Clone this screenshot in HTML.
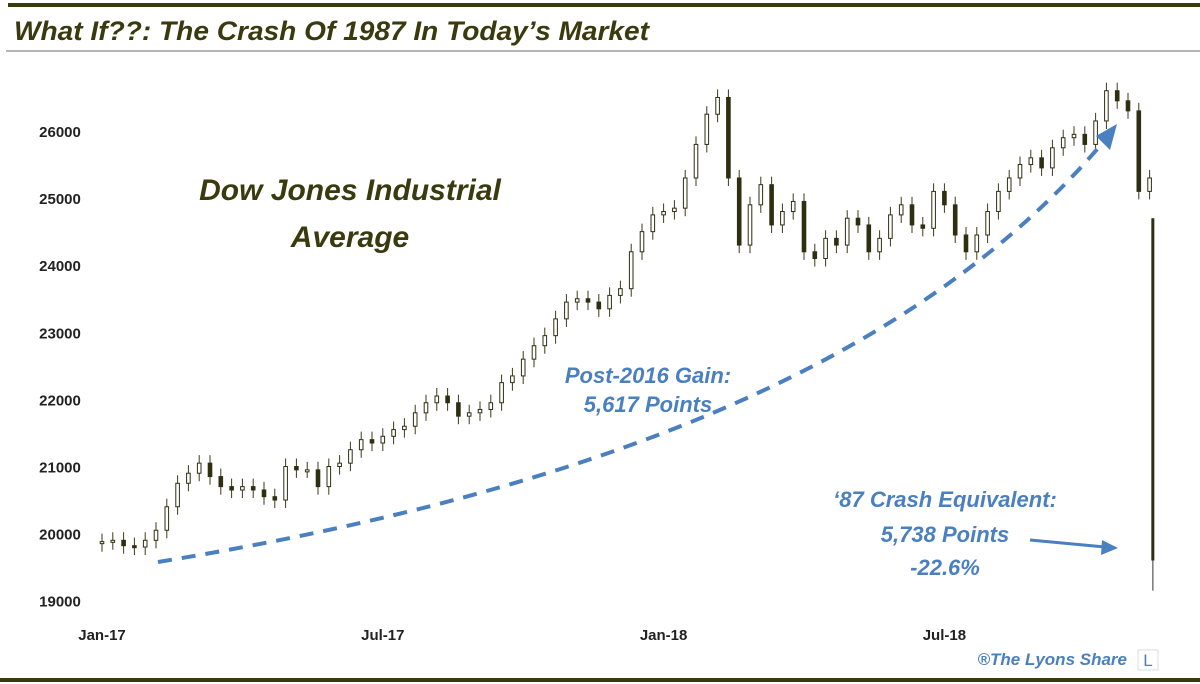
<!DOCTYPE html>
<html><head><meta charset="utf-8"><style>
html,body{margin:0;padding:0;background:#fff;}
body{width:1200px;height:684px;overflow:hidden;position:relative;font-family:"Liberation Sans",sans-serif;}
</style></head><body>
<svg id="chart" width="1200" height="684" xmlns="http://www.w3.org/2000/svg" style="position:absolute;left:0;top:0">
  <rect x="8" y="3" width="1192" height="4" fill="#3a3a0e"/>
  <text x="14" y="40" font-size="27" font-weight="bold" font-style="italic" fill="#3a3a0e" textLength="635" lengthAdjust="spacingAndGlyphs">What If??: The Crash Of 1987 In Today’s Market</text>
  <rect x="6" y="50" width="1194" height="2" fill="#b5b5b5"/>
  <rect x="0" y="678" width="1200" height="4" fill="#3a3a0e"/>
  <g id="yaxis"></g><g id="xaxis"></g><g id="candles"></g>
  <text x="350" y="200" font-size="30" font-weight="bold" font-style="italic" fill="#3a3a0e" text-anchor="middle">Dow Jones Industrial</text>
  <text x="350" y="247" font-size="30" font-weight="bold" font-style="italic" fill="#3a3a0e" text-anchor="middle">Average</text>
  <path d="M158,562 C600,490 920,360 1105,140" fill="none" stroke="#4a7fc0" stroke-width="4" stroke-dasharray="14,10"/>
  <polygon points="1117,124 1096,136 1110,150" fill="#4a7fc0"/>
  <text x="648" y="383" font-size="22" font-weight="bold" font-style="italic" fill="#4a7fc0" text-anchor="middle">Post-2016 Gain:</text>
  <text x="648" y="412" font-size="22" font-weight="bold" font-style="italic" fill="#4a7fc0" text-anchor="middle">5,617 Points</text>
  <text x="945" y="507" font-size="22" font-weight="bold" font-style="italic" fill="#4a7fc0" text-anchor="middle">‘87 Crash Equivalent:</text>
  <text x="945" y="542" font-size="22" font-weight="bold" font-style="italic" fill="#4a7fc0" text-anchor="middle">5,738 Points</text>
  <text x="945" y="575" font-size="22" font-weight="bold" font-style="italic" fill="#4a7fc0" text-anchor="middle">-22.6%</text>
  <line x1="1030" y1="540" x2="1105" y2="547" stroke="#4a7fc0" stroke-width="3"/>
  <polygon points="1118,548 1102,540 1101,555" fill="#4a7fc0"/>
  <text x="1127" y="665" font-size="17" font-weight="bold" font-style="italic" fill="#4a7fc0" text-anchor="end">®The Lyons Share</text>
  <rect x="1138" y="650" width="20" height="20" fill="none" stroke="#ddd"/>
  <text x="1148" y="666" font-size="17" fill="#4a7fc0" text-anchor="middle">L</text>
</svg>
<script>
const yTicks=[19000,20000,21000,22000,23000,24000,25000,26000];
const xTickLabels=["Jan-17","Jul-17","Jan-18","Jul-18"];
const xTickWeeks=[0,26,52,78];
const closes=[19880,19900,19820,19800,19900,20050,20400,20750,20900,21050,20850,20700,20650,20700,20650,20550,20500,21000,20950,20950,20700,21000,21050,21250,21400,21350,21450,21550,21600,21800,21950,22050,21950,21750,21800,21850,21950,22250,22350,22600,22800,22950,23200,23450,23500,23450,23350,23550,23650,24200,24500,24750,24800,24850,25300,25800,26250,26500,25300,24300,24900,25200,24600,24800,24950,24200,24100,24400,24300,24700,24600,24200,24400,24750,24900,24600,24550,25100,24900,24450,24200,24450,24800,25100,25300,25500,25600,25450,25750,25900,25950,25800,26150,26600,26450,26300,25100,25300];
const crashTop=24700, crashBottom=19600, crashLow=19150, crashWeek=97.3;
const NS="http://www.w3.org/2000/svg";
function yS(v){return 131+(26000-v)*0.0671;}
function xS(w){return 102+w*10.8;}
function mk(tag,attrs,parent){const e=document.createElementNS(NS,tag);for(const k in attrs)e.setAttribute(k,attrs[k]);parent.appendChild(e);return e;}
const ya=document.getElementById('yaxis'),xa=document.getElementById('xaxis'),cg=document.getElementById('candles');
yTicks.forEach(v=>{const t=mk('text',{x:60,y:yS(v)+6,'font-size':15,'font-weight':'bold',fill:'#222','text-anchor':'middle'},ya);t.textContent=v;

});
xTickLabels.forEach((s,i)=>{const t=mk('text',{x:xS(xTickWeeks[i]),y:640,'font-size':15,'font-weight':'bold',fill:'#222','text-anchor':'middle'},xa);t.textContent=s;

});
closes.forEach((c,i)=>{const o=i?closes[i-1]:c-30;const x=xS(i);const hi=Math.max(o,c)+120,lo=Math.min(o,c)-120;
const g=mk('g',{},cg);


mk('line',{x1:x,x2:x,y1:yS(hi),y2:yS(lo),stroke:'#3a3a1a','stroke-width':1},g);
const up=c>=o;const top=yS(Math.max(o,c)),h=Math.max(2,Math.abs(yS(o)-yS(c)));
mk('rect',{x:x-1.8,y:top,width:3.6,height:h,fill:up?'#fff':'#2e2e10',stroke:'#2e2e10','stroke-width':1},g);});
const cl=mk('line',{x1:xS(crashWeek),x2:xS(crashWeek),y1:yS(crashTop),y2:yS(crashBottom),stroke:'#2e2e10','stroke-width':3},cg);


const cw=mk('line',{x1:xS(crashWeek),x2:xS(crashWeek),y1:yS(crashBottom),y2:yS(crashLow),stroke:'#777','stroke-width':1.5},cg);


</script>
</body></html>
